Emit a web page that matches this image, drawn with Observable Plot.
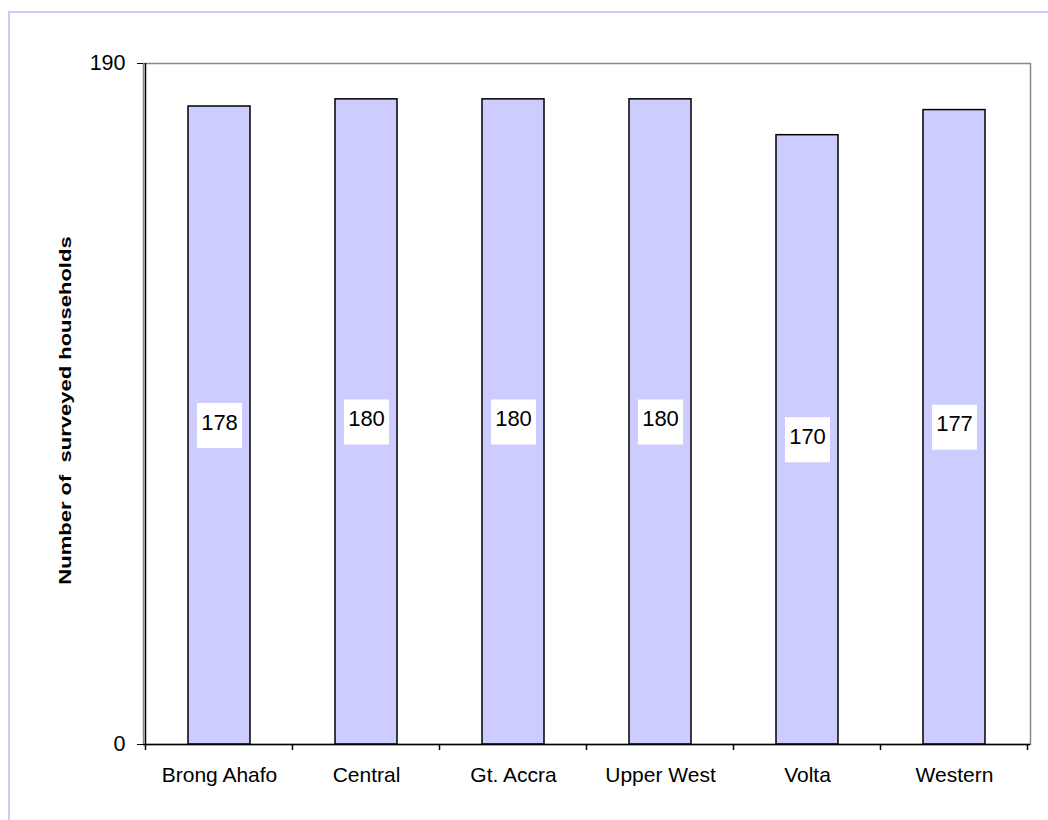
<!DOCTYPE html>
<html>
<head>
<meta charset="utf-8">
<script src="https://cdn.jsdelivr.net/npm/d3@7"></script>
<script src="https://cdn.jsdelivr.net/npm/@observablehq/plot@0.6"></script>
<style>
  html, body { margin: 0; padding: 0; background: #fff; }
  #wrap { position: relative; width: 1048px; height: 820px; overflow: hidden; }
  #frame { position: absolute; left: 8px; top: 11px; width: 1100px; height: 900px;
           border: 2px solid #ccccff; box-sizing: border-box; pointer-events: none; }
  #chart { position: absolute; left: 0; top: 0; }
  svg { font-family: "Liberation Sans", Arial, sans-serif; }
</style>
</head>
<body>
<div id="wrap"><div id="frame"></div><div id="chart"></div></div>
<script>
// Surveyed households per region
const regions = ["Brong Ahafo", "Central", "Gt. Accra", "Upper West", "Volta", "Western"];
const households = [178, 180, 180, 180, 170, 177];
const yTicks = [0, 190];
const yTitle = "Number of  surveyed households";

const rows = regions.map((region, i) => ({region, value: households[i]}));

const chart = Plot.plot({
  width: 1048,
  height: 820,
  marginLeft: 143,
  marginRight: 18,
  marginTop: 63,
  marginBottom: 76,
  style: {fontFamily: "Liberation Sans, Arial, sans-serif", background: "transparent"},
  x: {domain: regions, paddingInner: 0.58, paddingOuter: 0.29, label: null},
  y: {domain: [0, 190], label: null},
  marks: [
    // plot area frame (top and right edges show in grey)
    Plot.frame({stroke: "#888", strokeWidth: 1.5}),
    Plot.barY(rows, {x: "region", y: "value", fill: "#ccccff", stroke: "#000", strokeWidth: 1.5}),
    // white value boxes at mid-height of each bar
    Plot.dot(rows, {x: "region", y: d => d.value / 2, symbol: "square", r: 25.4, fill: "#fff", stroke: null}),
    Plot.text(rows, {x: "region", y: d => d.value / 2, text: d => String(d.value), dy: -3,
      fontSize: 22, fill: "#000"}),
    Plot.axisY({ticks: yTicks, tickSize: 6, tickPadding: 12, fontSize: 21.5, stroke: "#000",
      label: null, tickFormat: d => String(d)}),
    Plot.axisX({tickSize: 0, tickPadding: 23, fontSize: 21, label: null}),
    Plot.ruleY([0], {stroke: "#000", strokeWidth: 1.5})
  ]
});

const x = chart.scale("x");
const y = chart.scale("y");
const svg = d3.select(chart);

// left axis line and band-boundary ticks along the bottom
const gap = (x.step - x.bandwidth) / 2;
const edges = regions.map(r => x.apply(r) - gap);
edges.push(x.apply(regions[regions.length - 1]) + x.bandwidth + gap);
const g = svg.append("g").attr("stroke", "#000").attr("stroke-width", 1.5);
g.append("line").attr("x1", edges[0]).attr("x2", edges[0])
  .attr("y1", y.apply(190)).attr("y2", y.apply(0));
g.selectAll("line.edge").data(edges).join("line").attr("class", "edge")
  .attr("x1", d => d).attr("x2", d => d)
  .attr("y1", y.apply(0)).attr("y2", y.apply(0) + 6);

// rotated, condensed y-axis title
svg.append("text")
  .attr("transform", `translate(71, ${(y.apply(0) + y.apply(190)) / 2 + 7}) rotate(-90) scale(1, 0.74)`)
  .attr("text-anchor", "middle")
  .attr("font-size", 22)
  .attr("font-weight", "bold")
  .attr("fill", "#000")
  .style("white-space", "pre")
  .text(yTitle);

document.getElementById("chart").append(chart);
</script>
</body>
</html>
